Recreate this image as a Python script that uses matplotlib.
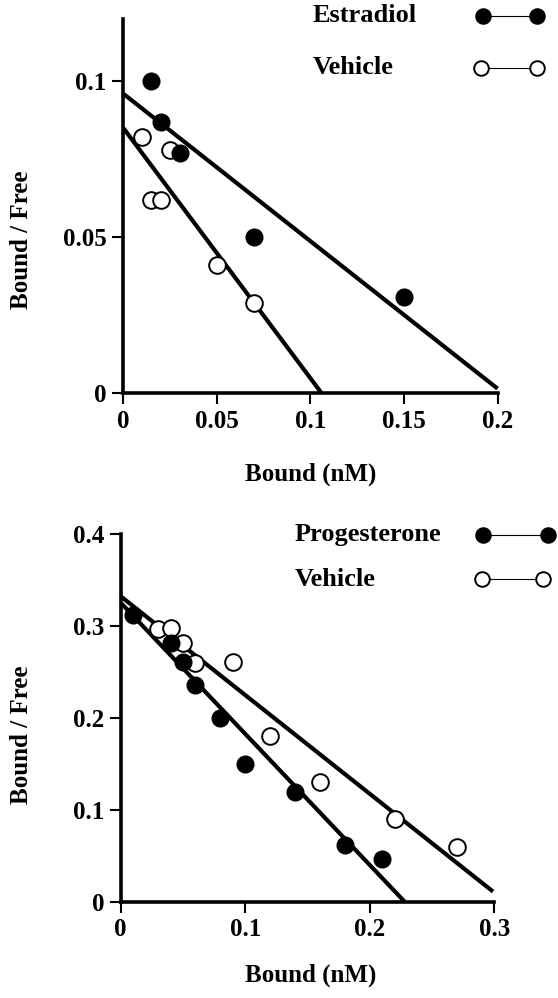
import matplotlib.pyplot as plt
from matplotlib.lines import Line2D

plt.rcParams['font.family'] = ['Liberation Serif', 'DejaVu Serif']
plt.rcParams['font.weight'] = 'bold'

# top panel: estradiol vs vehicle
e2_x = [0.015, 0.02, 0.03, 0.07, 0.15]
e2_y = [0.100, 0.087, 0.077, 0.050, 0.031]
veh1_x = [0.010, 0.015, 0.020, 0.025, 0.050, 0.070]
veh1_y = [0.082, 0.062, 0.062, 0.078, 0.041, 0.029]
e2_fit_x = [0.0, 0.2]
e2_fit_y = [0.096, 0.0015]
veh1_fit_x = [0.0, 0.106]
veh1_fit_y = [0.085, 0.0]

# bottom panel: progesterone vs vehicle
p4_x = [0.01, 0.04, 0.05, 0.06, 0.08, 0.10, 0.14, 0.18, 0.21]
p4_y = [0.312, 0.281, 0.261, 0.236, 0.200, 0.150, 0.119, 0.062, 0.046]
veh2_x = [0.03, 0.04, 0.05, 0.06, 0.09, 0.12, 0.16, 0.22, 0.27]
veh2_y = [0.296, 0.297, 0.281, 0.260, 0.261, 0.180, 0.130, 0.090, 0.059]
p4_fit_x = [0.0, 0.228]
p4_fit_y = [0.325, 0.0]
veh2_fit_x = [0.0, 0.299]
veh2_fit_y = [0.332, 0.011]

fig = plt.figure(figsize=(5.58, 9.98), dpi=100)
ax1 = fig.add_axes([0.2211, 0.6059, 0.6706, 0.3752])
ax2 = fig.add_axes([0.2163, 0.0965, 0.6695, 0.3687])

fs = 18

def style(ax, xlim, ylim, xticks, yticks, xlabels, ylabels):
    ax.set_xlim(*xlim)
    ax.set_ylim(*ylim)
    for s in ['top', 'right']:
        ax.spines[s].set_visible(False)
    for s in ['left', 'bottom']:
        ax.spines[s].set_linewidth(2.6)
    ax.set_xticks(xticks)
    ax.set_xticklabels(xlabels, fontsize=fs, fontweight='bold')
    ax.set_yticks(yticks)
    ax.set_yticklabels(ylabels, fontsize=fs, fontweight='bold')
    ax.tick_params(direction='out', length=8, width=1.5, pad=4)

def draw(ax, fx, fy, ox, oy, flx, fly, olx, oly):
    ax.plot(flx, fly, color='black', lw=3, solid_capstyle='butt', clip_on=False)
    ax.plot(olx, oly, color='black', lw=3, solid_capstyle='butt', clip_on=False)
    ax.plot(ox, oy, 'o', ms=12, mfc='white', mec='black', mew=1.4, zorder=3, clip_on=False)
    ax.plot(fx, fy, 'o', ms=12, mfc='black', mec='black', zorder=4, clip_on=False)

draw(ax1, e2_x, e2_y, veh1_x, veh1_y, e2_fit_x, e2_fit_y, veh1_fit_x, veh1_fit_y)
style(ax1, (0, 0.2), (0, 0.12), [0, 0.05, 0.1, 0.15, 0.2], [0, 0.05, 0.1],
      ['0', '0.05', '0.1', '0.15', '0.2'], ['0', '0.05', '0.1'])

draw(ax2, p4_x, p4_y, veh2_x, veh2_y, p4_fit_x, p4_fit_y, veh2_fit_x, veh2_fit_y)
style(ax2, (0, 0.3), (0, 0.4), [0, 0.1, 0.2, 0.3], [0, 0.1, 0.2, 0.3, 0.4],
      ['0', '0.1', '0.2', '0.3'], ['0', '0.1', '0.2', '0.3', '0.4'])

# axis labels
W, H = 558.0, 998.0
fig.text(22 / W, 1 - 240 / H, 'Bound / Free', rotation=90, ha='center', va='center',
         fontsize=fs, fontweight='bold')
fig.text(22 / W, 1 - 735 / H, 'Bound / Free', rotation=90, ha='center', va='center',
         fontsize=fs, fontweight='bold')
fig.text(311 / W, 1 - 474 / H, 'Bound (nM)', ha='center', va='center',
         fontsize=fs, fontweight='bold')
fig.text(311 / W, 1 - 975 / H, 'Bound (nM)', ha='center', va='center',
         fontsize=fs, fontweight='bold')

# hand-made legends
def key(label, tx, ty, x1, x2, filled):
    fig.text(tx / W, 1 - ty / H, label, ha='left', va='center', fontsize=fs + 1, fontweight='bold')
    fig.add_artist(Line2D([x1 / W, x2 / W], [1 - ty / H, 1 - ty / H], transform=fig.transFigure,
                          color='black', lw=0.8, marker='o', ms=10.5,
                          mfc='black' if filled else 'white', mec='black', mew=1.4))

key('Estradiol', 313, 16, 483, 537, True)
key('Vehicle', 313, 68, 481, 537, False)
key('Progesterone', 295, 535, 483, 548, True)
key('Vehicle', 295, 579, 482, 543, False)

fig.savefig('out.png', dpi=100)
